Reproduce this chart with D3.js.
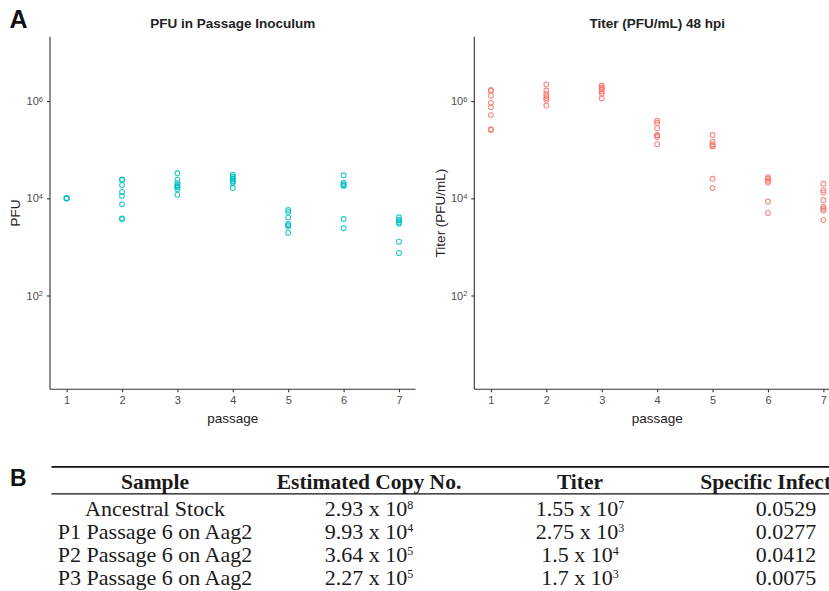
<!DOCTYPE html>
<html>
<head>
<meta charset="utf-8">
<script src="https://cdn.jsdelivr.net/npm/d3@7"></script>
<style>
  html, body { margin: 0; padding: 0; background: #fff; }
  svg { display: block; }
</style>
</head>
<body>
<svg id="fig" width="829" height="591"></svg>
<script>
// Passage numbers on the x axis
const passages = [1, 2, 3, 4, 5, 6, 7];

// PFU put into each passage (one inner list per passage)
const pfuInoculum = [
  [9.9e3, 1.0e4, 1.0e4, 1.01e4],
  [2.45e4, 2.4e4, 1.88e4, 1.35e4, 1.12e4, 7.5e3, 3.85e3, 3.75e3],
  [3.27e4, 2.42e4, 2.05e4, 1.85e4, 1.75e4, 1.68e4, 1.53e4, 1.19e4],
  [3.06e4, 2.8e4, 2.6e4, 2.5e4, 2.3e4, 2.2e4, 2.07e4, 1.63e4],
  [5.75e3, 5.2e3, 4.05e3, 2.95e3, 2.8e3, 2.65e3, 1.96e3],
  [2.97e4, 2.1e4, 1.95e4, 1.85e4, 1.8e4, 3.75e3, 2.42e3],
  [4.06e3, 3.6e3, 3.5e3, 3.2e3, 3.0e3, 1.28e3, 7.5e2]
];

// Titer (PFU/mL) at 48 hpi for each passage
const titer48 = [
  [1.7e6, 1.62e6, 1.29e6, 9.2e5, 7.5e5, 5.15e5, 2.65e5, 2.55e5],
  [2.2e6, 1.65e6, 1.41e6, 1.27e6, 1.15e6, 1.06e6, 8.1e5],
  [2.09e6, 1.9e6, 1.8e6, 1.73e6, 1.58e6, 1.43e6, 1.13e6],
  [3.94e5, 3.53e5, 2.78e5, 2.0e5, 1.96e5, 1.82e5, 1.3e5],
  [2.0e5, 1.46e5, 1.3e5, 1.22e5, 1.17e5, 2.52e4, 1.62e4],
  [2.73e4, 2.52e4, 2.29e4, 2.11e4, 8.6e3, 5.0e3],
  [1.99e4, 1.47e4, 1.32e4, 9.2e3, 6.7e3, 6.1e3, 5.6e3, 3.56e3]
];

// Log-axis breaks
const yTicks = [1e2, 1e4, 1e6];

// Table B contents
const tableHeaders = ["Sample", "Estimated Copy No.", "Titer", "Specific Infectivity"];
const samples = ["Ancestral Stock", "P1 Passage 6 on Aag2", "P2 Passage 6 on Aag2", "P3 Passage 6 on Aag2"];
const copyMantissa = ["2.93", "9.93", "3.64", "2.27"];
const copyExponent = [8, 4, 5, 5];
const titerMantissa = ["1.55", "2.75", "1.5", "1.7"];
const titerExponent = [7, 3, 4, 3];
const specificInfectivity = ["0.0529", "0.0277", "0.0412", "0.0075"];

const svg = d3.select("#fig");
const sans = "'Liberation Sans', Arial, Helvetica, sans-serif";
const serif = "'Liberation Serif', 'Times New Roman', serif";
const axisGrey = "#4d4d4d";

const plotTop = 36.7, plotBottom = 389.3;
const panels = [
  { x0: 50, x1: 415.6, data: pfuInoculum, color: "#00BFC4",
    title: "PFU in Passage Inoculum", ylab: "PFU", ylabX: 15 },
  { x0: 474.3, x1: 840, data: titer48, color: "#F8766D",
    title: "Titer (PFU/mL) 48 hpi", ylab: "Titer (PFU/mL)", ylabX: 440 }
];

const y = d3.scaleLog().domain([Math.pow(10, 0.07), Math.pow(10, 7.325)]).range([plotBottom, plotTop]);

panels.forEach(p => {
  const x = d3.scaleLinear().domain([0.7, 7.3]).range([p.x0, p.x1]);
  const g = svg.append("g");

  // points
  const pts = [];
  p.data.forEach((vals, i) => vals.forEach(v => pts.push({ passage: passages[i], value: v })));
  g.append("g").selectAll("circle").data(pts).join("circle")
    .attr("cx", d => x(d.passage))
    .attr("cy", d => y(d.value))
    .attr("r", 2.4)
    .attr("fill", "none")
    .attr("stroke", p.color)
    .attr("stroke-width", 1.1)
    .attr("stroke-opacity", 0.85);

  // x axis
  const xa = g.append("g").attr("transform", `translate(0,${plotBottom})`)
    .call(d3.axisBottom(x).tickValues(passages).tickFormat(d3.format("d")).tickSize(3).tickSizeOuter(0).tickPadding(4));
  // y axis
  const ya = g.append("g").attr("transform", `translate(${p.x0},0)`)
    .call(d3.axisLeft(y).tickValues(yTicks).tickSize(3).tickSizeOuter(0).tickPadding(4));

  [xa, ya].forEach(a => {
    a.select(".domain").attr("stroke", "#333").attr("stroke-width", 1.1);
    a.selectAll(".tick line").attr("stroke", "#333").attr("stroke-width", 1.1);
    a.selectAll(".tick text").attr("fill", axisGrey).attr("font-family", sans).attr("font-size", 11);
  });
  ya.select(".domain").attr("d", `M0,${plotTop}V${plotBottom}`);
  xa.select(".domain").attr("d", `M${p.x0},0H${p.x1}`);

  // powers of ten with superscript exponents
  ya.selectAll(".tick text").each(function(d) {
    const t = d3.select(this);
    t.text("");
    t.append("tspan").text("10");
    t.append("tspan").attr("dy", -3.5).attr("font-size", 7.5).text(Math.round(Math.log10(d)));
  });

  // panel title
  g.append("text")
    .attr("x", (p.x0 + p.x1) / 2).attr("y", 27.5)
    .attr("text-anchor", "middle")
    .attr("font-family", sans).attr("font-weight", "bold").attr("font-size", 13.5)
    .attr("fill", "#222")
    .text(p.title);

  // axis titles
  g.append("text")
    .attr("x", (p.x0 + p.x1) / 2).attr("y", 422.5)
    .attr("text-anchor", "middle")
    .attr("font-family", sans).attr("font-size", 13.5).attr("fill", "#222")
    .text("passage");
  g.append("text")
    .attr("transform", `translate(${p.ylabX + 4.5},${(plotTop + plotBottom) / 2}) rotate(-90)`)
    .attr("text-anchor", "middle")
    .attr("font-family", sans).attr("font-size", 13.5).attr("fill", "#222")
    .text(p.ylab);
});

// panel letters
svg.append("text").attr("x", 9.5).attr("y", 28).attr("font-family", sans).attr("font-weight", "bold")
  .attr("font-size", 25).attr("fill", "#111").text("A");
svg.append("text").attr("x", 10).attr("y", 485.5).attr("font-family", sans).attr("font-weight", "bold")
  .attr("font-size", 23).attr("fill", "#111").text("B");

// ---- Table B ----
const colX = [155, 369, 580, 786];
const headerBase = 489;
const rowBase = [516, 539, 562, 585];
const tbl = svg.append("g").attr("font-family", serif).attr("fill", "#1a1a1a");

tbl.append("line").attr("x1", 51.5).attr("x2", 829).attr("y1", 466.8).attr("y2", 466.8)
  .attr("stroke", "#111").attr("stroke-width", 1.8);
tbl.append("line").attr("x1", 51.5).attr("x2", 829).attr("y1", 493.8).attr("y2", 493.8)
  .attr("stroke", "#111").attr("stroke-width", 1.3);

tbl.selectAll("text.hdr").data(tableHeaders).join("text")
  .attr("class", "hdr")
  .attr("x", (d, i) => colX[i]).attr("y", headerBase)
  .attr("text-anchor", "middle").attr("font-weight", "bold").attr("font-size", 21.5)
  .text(d => d);

function sci(sel, mant, exp) {
  sel.append("tspan").text(mant + " x 10");
  sel.append("tspan").attr("dy", -7.5).attr("font-size", 12).text(exp);
}

samples.forEach((s, i) => {
  tbl.append("text").attr("x", colX[0]).attr("y", rowBase[i])
    .attr("text-anchor", "middle").attr("font-size", 22).text(s);
  const c = tbl.append("text").attr("x", colX[1]).attr("y", rowBase[i])
    .attr("text-anchor", "middle").attr("font-size", 22);
  sci(c, copyMantissa[i], copyExponent[i]);
  const t = tbl.append("text").attr("x", colX[2]).attr("y", rowBase[i])
    .attr("text-anchor", "middle").attr("font-size", 22);
  sci(t, titerMantissa[i], titerExponent[i]);
  tbl.append("text").attr("x", colX[3]).attr("y", rowBase[i])
    .attr("text-anchor", "middle").attr("font-size", 22).text(specificInfectivity[i]);
});
</script>
</body>
</html>
